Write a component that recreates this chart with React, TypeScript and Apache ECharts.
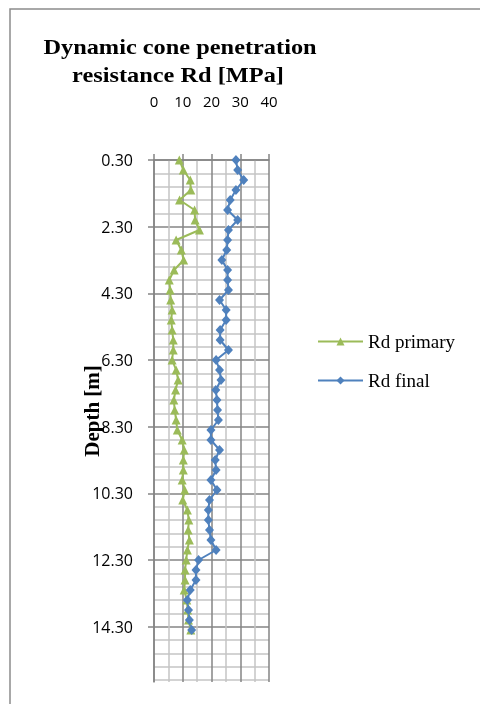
import React, { useEffect, useRef } from "react";
import * as echarts from "echarts";

const depths = [
  0.3, 0.6, 0.9, 1.2, 1.5, 1.8, 2.1, 2.4, 2.7, 3.0, 3.3, 3.6, 3.9, 4.2, 4.5, 4.8,
  5.1, 5.4, 5.7, 6.0, 6.3, 6.6, 6.9, 7.2, 7.5, 7.8, 8.1, 8.4, 8.7, 9.0, 9.3, 9.6,
  9.9, 10.2, 10.5, 10.8, 11.1, 11.4, 11.7, 12.0, 12.3, 12.6, 12.9, 13.2, 13.5, 13.8, 14.1, 14.4,
];
const rdPrimary = [
  8.8, 10.2, 12.6, 12.8, 8.9, 14.1, 14.3, 15.8, 7.7, 9.5, 10.3, 7.0, 5.3, 5.6, 5.8, 6.3,
  6.0, 6.3, 6.7, 6.7, 6.3, 7.7, 8.4, 7.5, 6.9, 7.2, 7.7, 8.1, 9.8, 10.5, 10.2, 10.2,
  9.8, 10.7, 10.0, 11.6, 12.1, 11.9, 12.3, 11.6, 11.2, 10.8, 10.8, 10.5, 11.4, 11.7, 12.0, 12.8,
];
const rdFinal = [
  28.5, 29.1, 31.2, 28.5, 26.5, 25.6, 29.1, 25.9, 25.6, 25.3, 23.6, 25.6, 25.6, 25.9, 22.8, 25.1,
  25.1, 23.0, 23.0, 25.9, 21.6, 22.8, 23.3, 21.5, 21.9, 22.1, 22.4, 19.8, 19.8, 22.8, 21.3, 21.6,
  19.8, 21.9, 19.3, 18.9, 18.9, 19.3, 19.8, 21.6, 15.5, 14.6, 14.6, 12.6, 11.6, 12.0, 12.3, 13.1,
];
const xTickLabels = [0, 10, 20, 30, 40];
const depthTickLabels = [0.3, 2.3, 4.3, 6.3, 8.3, 10.3, 12.3, 14.3];
const seriesNames = ["Rd primary", "Rd final"];
const titleLines = ["Dynamic cone penetration", "resistance Rd [MPa]"];
const depthTitle = "Depth [m]";

export default function App() {
  const ref = useRef<HTMLDivElement>(null);
  useEffect(() => {
    const chart = echarts.init(ref.current!, null, { renderer: "svg" });
    const major = "#858585";
    const minor = "#c4c4c4";
    const axisFont = "'Open Sans', sans-serif";
    const serif = "'Liberation Serif', 'Times New Roman', serif";
    const yMin = 0.3;
    const yMax = 15.96;
    chart.setOption({
      animation: false,
      grid: { left: 154, top: 160, right: 211, bottom: 22, containLabel: false },
      legend: {
        orient: "vertical",
        left: 317,
        top: 332,
        padding: 0,
        itemWidth: 45,
        itemHeight: 10,
        itemGap: 20,
        textStyle: { fontFamily: serif, fontSize: 19, color: "#000" },
        data: seriesNames,
      },
      xAxis: [
        {
          type: "value",
          position: "top",
          min: 0,
          max: 40,
          interval: 5,
          axisLine: { show: true, onZero: false, lineStyle: { color: major, width: 1.5 } },
          axisTick: { show: false },
          axisLabel: { show: false },
          splitLine: { show: true, lineStyle: { color: [major, minor], width: 1.5 } },
        },
        {
          type: "value",
          position: "top",
          min: 0,
          max: 40,
          interval: 10,
          axisLine: { show: false, onZero: false },
          axisTick: { show: true, length: 6, customValues: xTickLabels, lineStyle: { color: major, width: 1.5 } },
          axisLabel: { margin: 52, fontSize: 15, color: "#000", fontFamily: axisFont, customValues: xTickLabels },
          splitLine: { show: false },
        },
      ],
      yAxis: [
        {
          type: "value",
          inverse: true,
          min: yMin,
          max: yMax,
          interval: 0.4,
          position: "left",
          axisLine: { show: true, onZero: false, lineStyle: { color: major, width: 1.5 } },
          axisTick: { show: false },
          axisLabel: { show: false },
          splitLine: {
            show: true,
            showMaxLine: false,
            lineStyle: { color: [major, minor, minor, minor, minor], width: 1.5 },
          },
        },
        {
          type: "value",
          inverse: true,
          min: yMin,
          max: yMax,
          position: "left",
          axisLine: { show: false, onZero: false },
          axisTick: { show: true, length: 6, customValues: depthTickLabels, lineStyle: { color: major, width: 1.5 } },
          axisLabel: {
            customValues: depthTickLabels,
            formatter: (v: number) => v.toFixed(2),
            margin: 21,
            fontSize: 16,
            color: "#000",
            fontFamily: axisFont,
          },
          splitLine: { show: false },
        },
      ],
      series: [
        {
          type: "line",
          name: seriesNames[0],
          xAxisIndex: 0,
          yAxisIndex: 0,
          data: depths.map((d, i) => [rdPrimary[i], d]),
          symbol: "triangle",
          symbolSize: 9,
          lineStyle: { color: "#9BBB59", width: 2 },
          itemStyle: { color: "#9BBB59" },
        },
        {
          type: "line",
          name: seriesNames[1],
          xAxisIndex: 0,
          yAxisIndex: 0,
          data: depths.map((d, i) => [rdFinal[i], d]),
          symbol: "diamond",
          symbolSize: [9, 10],
          lineStyle: { color: "#4F81BD", width: 2 },
          itemStyle: { color: "#4F81BD" },
        },
      ],
      graphic: [
        {
          type: "rect",
          silent: true,
          shape: { x: 10, y: 9, width: 540, height: 740 },
          style: { fill: "none", stroke: "#8c8c8c", lineWidth: 1.5 },
        },
        {
          type: "text",
          x: 180,
          y: 47,
          scaleX: 1.16,
          style: { text: titleLines[0], font: `bold 21px ${serif}`, fill: "#000", align: "center", verticalAlign: "middle" },
        },
        {
          type: "text",
          x: 178,
          y: 75,
          scaleX: 1.16,
          style: { text: titleLines[1], font: `bold 21px ${serif}`, fill: "#000", align: "center", verticalAlign: "middle" },
        },
        {
          type: "text",
          x: 92,
          y: 411,
          rotation: Math.PI / 2,
          style: { text: depthTitle, font: `bold 21px ${serif}`, fill: "#000", align: "center", verticalAlign: "middle" },
        },
      ],
    });
    return () => chart.dispose();
  }, []);
  return <div ref={ref} style={{ position: "fixed", left: 0, top: 0, width: 480, height: 704 }} />;
}
